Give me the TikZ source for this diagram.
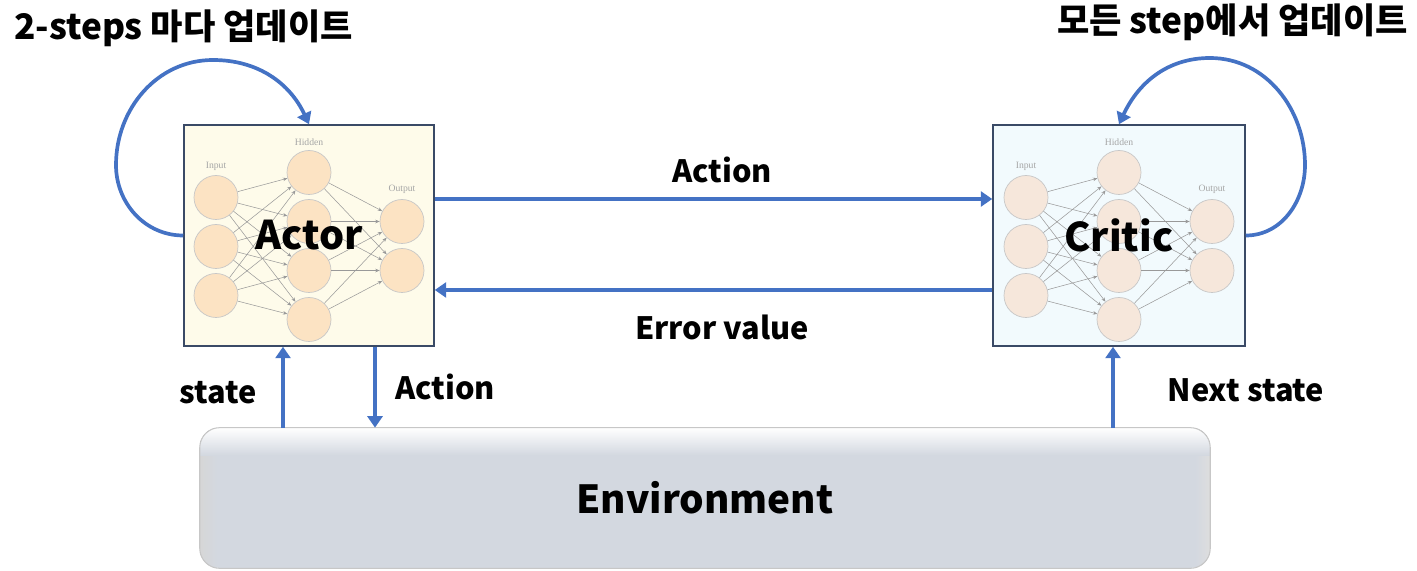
\documentclass[tikz,border=0pt]{standalone}
\usepackage{fontspec}
\setmainfont{Noto Sans CJK KR}
\newfontfamily\netfont{Liberation Serif}
\usetikzlibrary{arrows.meta,positioning}

\definecolor{flowblue}{HTML}{4472C4}
\definecolor{boxline}{HTML}{3A4A66}
\definecolor{actorbg}{HTML}{FEFBEA}
\definecolor{criticbg}{HTML}{F2FAFD}
\definecolor{actorcell}{HTML}{FCE3C3}
\definecolor{criticcell}{HTML}{F6E7DB}
\definecolor{envgray}{HTML}{D3D8E0}

\tikzset{
  flow/.style={line width=2.1pt,draw=flowblue,-{Triangle[length=6.5pt,width=8.5pt]}},
  agent/.style={draw=boxline,line width=0.9pt,minimum width=5cm,minimum height=4.42cm,inner sep=0pt},
  neuron/.style={circle,draw=black!22,line width=0.4pt,minimum size=0.88cm,inner sep=0pt},
  netedge/.style={draw=black!40,line width=0.3pt,-{Stealth[length=2.5pt,width=2pt]}},
  netlabel/.style={font=\netfont\fontsize{5.5}{6}\selectfont,text=black!35,inner sep=0pt},
  lbl/.style={font=\bfseries\fontsize{17.5}{20}\selectfont},
  title/.style={font=\bfseries\fontsize{20}{24}\selectfont},
  big/.style={font=\bfseries\fontsize{22.5}{26}\selectfont},
}

% small feed-forward net drawn inside an agent box
% #1 = name prefix, #2 = box node, #3 = cell colour
\newcommand{\nnet}[3]{%
  \begin{scope}[shift={(#2.center)}]
    \foreach \i/\dy in {1/38,2/-11,3/-60}
      \node[neuron,fill=#3] (#1i\i) at (-93,\dy) {};
    \foreach \h/\dy in {1/63,2/14,3/-35,4/-84}
      \node[neuron,fill=#3] (#1h\h) at (0,\dy) {};
    \foreach \o/\dy in {1/14,2/-35}
      \node[neuron,fill=#3] (#1o\o) at (93,\dy) {};
    \foreach \i in {1,2,3}
      \foreach \h in {1,...,4}
        \draw[netedge] (#1i\i) -- (#1h\h);
    \foreach \h in {1,...,4}
      \foreach \o in {1,2}
        \draw[netedge] (#1h\h) -- (#1o\o);
    \node[netlabel] (#1in) at (-93,69) {Input};
    \node[netlabel] (#1hid) at (0,93) {Hidden};
    \node[netlabel] (#1out) at (93,46) {Output};
  \end{scope}}

\begin{document}
\begin{tikzpicture}[x=0.02cm,y=0.02cm]
\useasboundingbox (0,0) rectangle (1417,571);

% Define coordinates
\coordinate (stx) at (283,0);     % state arrow
\coordinate (acx) at (375,0);     % action arrow
\coordinate (nsx) at (1113,0);    % next state arrow
\coordinate (al1) at (116,406);   % actor loop
\coordinate (al2) at (213,511);
\coordinate (cl1) at (1305,406);  % critic loop
\coordinate (cl2) at (1210,513);

% ACTOR
\node[agent,fill=actorbg] (actor) at (309,335.5) {};
\nnet{an}{actor}{actorcell}
\node[big] (actorlbl) at (actor.center) {Actor};

% CRITIC
\node[agent,fill=criticbg,minimum width=5.04cm] (critic) at (1119,335.5) {};
\nnet{cn}{critic}{criticcell}
\node[big] (criticlbl) at (critic.center) {Critic};

% ENVIRONMENT, flat body with soft bevelled edges
\node[rounded corners=0.4cm,fill=envgray,minimum width=20.2cm,minimum height=2.8cm,
      font=\bfseries\fontsize{22}{26}\selectfont] (env) at (705,73) {Environment};
\begin{scope}
  \clip[rounded corners=0.4cm] (env.south west) rectangle (env.north east);
  \fill[left color=black!16,right color=envgray] (env.south west) rectangle ([xshift=0.35cm]env.north west);
  \fill[right color=black!13,left color=envgray] (env.south east) rectangle ([xshift=-0.3cm]env.north east);
  \fill[top color=white,bottom color=envgray] (env.north west) rectangle ([yshift=-0.55cm]env.north east);
\end{scope}
\draw[rounded corners=0.4cm,draw=black!22,line width=0.6pt] (env.south west) rectangle (env.north east);

% Arrows between the boxes
\draw[flow] ([yshift=0.73cm]actor.east) -- ([yshift=0.73cm]critic.west);
\draw[flow] ([yshift=-1.09cm]critic.west) -- ([yshift=-1.09cm]actor.west -| actor.east);
\draw[flow] (env.north -| stx) -- (actor.south -| stx);
\draw[flow] (actor.south -| acx) -- (env.north -| acx);
\draw[flow] (env.north -| nsx) -- (critic.south -| nsx);

% update loops
\draw[flow] (actor.west) to[out=180,in=-90] (al1) to[out=90,in=180] (al2) to[out=0,in=115] (actor.north);
\draw[flow] (critic.east) to[out=0,in=-90] (cl1) to[out=90,in=0] (cl2) to[out=180,in=65] (critic.north);

% Labels
\node[lbl] (lact) at (722,401) {Action};
\node[lbl] (lerr) at (722,244) {Error value};
\node[lbl] (lst) at (218,178) {state};
\node[lbl] (lact2) at (445,184) {Action};
\node[lbl] (lnext) at (1246,181) {Next state};
\node[title,anchor=west] (upd2) at (8,543) {2-steps 마다 업데이트};
\node[title,anchor=east] (updall) at (1414,549) {모든 step에서 업데이트};

\end{tikzpicture}
\end{document}
